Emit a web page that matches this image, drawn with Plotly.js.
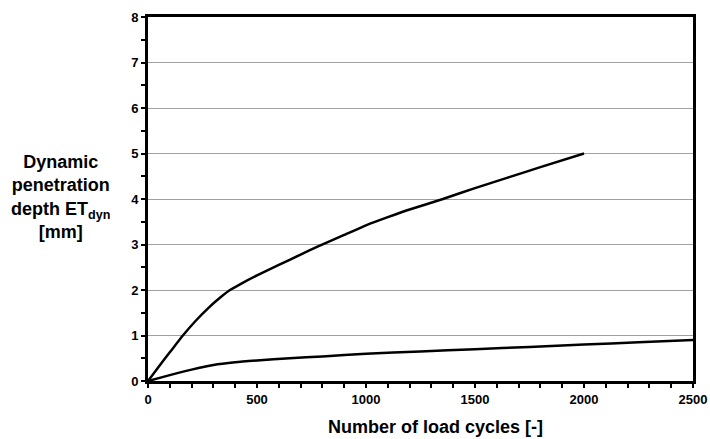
<!DOCTYPE html>
<html><head><meta charset="utf-8">
<script src="https://cdn.plot.ly/plotly-3.0.1.min.js"></script>
<style>html,body{margin:0;padding:0;background:#fff}</style>
</head><body><div id="chart" style="width:710px;height:439px"></div>
<script>
// Upper curve
const cyclesUpper = [0, 50, 100, 160, 220, 280, 330, 376, 420, 500, 600, 700, 775, 900, 1000, 1100, 1200, 1353, 1500, 1650, 1800, 2000];
const depthUpper  = [0, 0.32, 0.63, 1.0, 1.33, 1.62, 1.83, 2.0, 2.12, 2.32, 2.55, 2.78, 2.95, 3.21, 3.42, 3.6, 3.77, 4.0, 4.24, 4.47, 4.7, 5.0];
// Lower curve
const cyclesLower = [0, 100, 200, 300, 400, 500, 650, 800, 1000, 1250, 1500, 1750, 2000, 2250, 2500];
const depthLower  = [0, 0.13, 0.25, 0.35, 0.41, 0.45, 0.5, 0.54, 0.6, 0.65, 0.7, 0.75, 0.8, 0.85, 0.9];

const tickFont = {family: 'Liberation Sans, Arial, sans-serif', size: 13, color: '#000', weight: 'bold'};

const traces = [
  {x: cyclesUpper, y: depthUpper, mode: 'lines', line: {color: '#000', width: 2.5, shape: 'spline', smoothing: 0.5}, hoverinfo: 'skip'},
  {x: cyclesLower, y: depthLower, mode: 'lines', line: {color: '#000', width: 2.5, shape: 'spline', smoothing: 0.5}, hoverinfo: 'skip'}
];

const layout = {
  width: 710, height: 439,
  margin: {l: 148, r: 17, t: 17, b: 58},
  paper_bgcolor: '#fff', plot_bgcolor: '#fff',
  showlegend: false,
  font: {family: 'Liberation Sans, Arial, sans-serif', color: '#000'},
  xaxis: {
    range: [0, 2500], dtick: 500, tick0: 0,
    showgrid: false, zeroline: false,
    showline: true, linecolor: '#000', linewidth: 3, mirror: true,
    ticks: 'outside', ticklen: 4, tickwidth: 2, tickcolor: '#000',
    minor: {dtick: 100, ticks: 'outside', ticklen: 4, tickwidth: 2, tickcolor: '#000', showgrid: false},
    tickfont: tickFont
  },
  yaxis: {
    range: [0, 8], dtick: 1, tick0: 0,
    showgrid: true, gridcolor: '#a0a0a0', gridwidth: 1, zeroline: false,
    showline: true, linecolor: '#000', linewidth: 3, mirror: true,
    ticks: 'outside', ticklen: 4, tickwidth: 2, tickcolor: '#000',
    minor: {dtick: 0.5, ticks: 'outside', ticklen: 4, tickwidth: 2, tickcolor: '#000', showgrid: false},
    tickfont: tickFont
  },
  annotations: [{
    xref: 'paper', yref: 'paper', x: -0.161, y: 0.505, xanchor: 'center', yanchor: 'middle',
    showarrow: false, align: 'center',
    text: '<b>Dynamic<br>penetration<br>depth ET<sub>dyn</sub><br>[mm]</b>',
    font: {size: 18, color: '#000'}
  }, {
    xref: 'paper', yref: 'paper', x: 0.528, y: -0.125, xanchor: 'center', yanchor: 'middle',
    showarrow: false,
    text: '<b>Number of load cycles [-]</b>',
    font: {size: 18, color: '#000'}
  }]
};

Plotly.newPlot('chart', traces, layout, {staticPlot: true, displayModeBar: false});
</script></body></html>
